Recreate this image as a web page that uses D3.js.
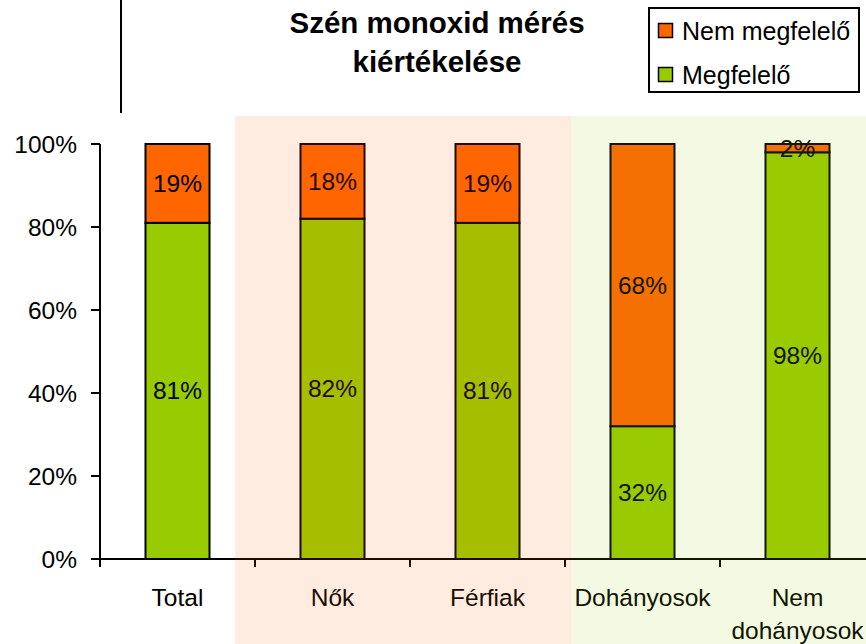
<!DOCTYPE html>
<html>
<head>
<meta charset="utf-8">
<script src="https://cdn.jsdelivr.net/npm/d3@7"></script>
<style>
  html, body { margin: 0; padding: 0; background: #fff; }
  svg { display: block; font-family: "Liberation Sans", Arial, sans-serif; }
</style>
</head>
<body>
<svg id="chart" width="866" height="644"></svg>
<script>
// ---- data ----
const categories = ["Total", "Nők", "Férfiak", "Dohányosok", "Nem dohányosok"];
const megfelelo = [0.81, 0.82, 0.81, 0.32, 0.98];
const nemMegfelelo = [0.19, 0.18, 0.19, 0.68, 0.02];
const seriesNames = ["Nem megfelelő", "Megfelelő"];
const yTicks = [0, 0.2, 0.4, 0.6, 0.8, 1.0];
const titleLines = ["Szén monoxid mérés", "kiértékelése"];

const colors = { "Megfelelő": "#99CC00", "Nem megfelelő": "#FF6600" };

const svg = d3.select("#chart");
const W = 866, H = 644;
const FS = 24.5;

const x0 = 100, step = 155;
const x = d3.scaleBand().domain(categories)
  .range([x0, x0 + step * categories.length])
  .paddingInner(0.587).paddingOuter(0.2935);
const y = d3.scaleLinear().domain([0, 1]).range([559, 144]);

// ---- title ----
svg.append("text")
  .attr("x", 437).attr("y", 33)
  .attr("text-anchor", "middle")
  .attr("font-size", 29.5).attr("font-weight", "bold")
  .selectAll("tspan").data(titleLines).join("tspan")
  .attr("x", 437).attr("dy", (d, i) => i === 0 ? 0 : 39)
  .text(d => d);

// vertical separator line at top
svg.append("line")
  .attr("x1", 121).attr("x2", 121).attr("y1", 0).attr("y2", 113)
  .attr("stroke", "#000").attr("stroke-width", 2);

// ---- legend ----
const lg = svg.append("g");
lg.append("rect").attr("x", 649).attr("y", 8).attr("width", 210).attr("height", 84)
  .attr("fill", "#fff").attr("stroke", "#000").attr("stroke-width", 2);
seriesNames.forEach((name, i) => {
  const yy = 23 + i * 44;
  lg.append("rect").attr("x", 658.5).attr("y", yy + 0.5).attr("width", 14).attr("height", 14)
    .attr("fill", colors[name]).attr("stroke", "#000").attr("stroke-width", 1.5);
  lg.append("text").attr("x", 682).attr("y", yy + 16.5)
    .attr("font-size", 25).attr("fill", "#000").text(name);
});

// ---- bars ----
const stackData = categories.map((c, i) => ({ cat: c, m: megfelelo[i], n: nemMegfelelo[i] }));
const barG = svg.append("g");
stackData.forEach(d => {
  const bx = x(d.cat), bw = x.bandwidth();
  barG.append("rect")
    .attr("x", bx).attr("y", y(d.m)).attr("width", bw).attr("height", y(0) - y(d.m))
    .attr("fill", colors["Megfelelő"]).attr("stroke", "#000").attr("stroke-width", 2);
  barG.append("rect")
    .attr("x", bx).attr("y", y(d.m + d.n)).attr("width", bw).attr("height", y(d.m) - y(d.m + d.n))
    .attr("fill", colors["Nem megfelelő"]).attr("stroke", "#000").attr("stroke-width", 2);
  barG.append("text")
    .attr("x", bx + bw / 2).attr("y", (y(0) + y(d.m)) / 2)
    .attr("text-anchor", "middle").attr("dominant-baseline", "central")
    .attr("font-size", FS).attr("fill", "#000")
    .text(Math.round(d.m * 100) + "%");
  barG.append("text")
    .attr("x", bx + bw / 2).attr("y", (y(d.m) + y(d.m + d.n)) / 2)
    .attr("text-anchor", "middle").attr("dominant-baseline", "central")
    .attr("font-size", FS).attr("fill", "#000")
    .text(Math.round(d.n * 100) + "%");
});

// ---- axes ----
const yAxis = svg.append("g");
yAxis.append("line").attr("x1", x0).attr("x2", x0).attr("y1", y(1)).attr("y2", y(0) + 8)
  .attr("stroke", "#000").attr("stroke-width", 2);
yTicks.forEach(t => {
  yAxis.append("line").attr("x1", x0 - 9).attr("x2", x0).attr("y1", y(t)).attr("y2", y(t))
    .attr("stroke", "#000").attr("stroke-width", 2);
  yAxis.append("text").attr("x", 77).attr("y", y(t))
    .attr("text-anchor", "end").attr("dominant-baseline", "central")
    .attr("font-size", FS).attr("fill", "#000")
    .text(d3.format(".0%")(t));
});

const xAxis = svg.append("g");
xAxis.append("line").attr("x1", x0).attr("x2", W).attr("y1", y(0)).attr("y2", y(0))
  .attr("stroke", "#000").attr("stroke-width", 2);
categories.forEach((c, i) => {
  const tx = x0 + i * step;
  xAxis.append("line").attr("x1", tx).attr("x2", tx).attr("y1", y(0)).attr("y2", y(0) + 8)
    .attr("stroke", "#000").attr("stroke-width", 2);
  const words = c === "Nem dohányosok" ? ["Nem", "dohányosok"] : [c];
  const t = xAxis.append("text").attr("x", x(c) + x.bandwidth() / 2).attr("y", 606)
    .attr("text-anchor", "middle").attr("font-size", FS).attr("fill", "#000");
  words.forEach((w, j) => {
    t.append("tspan").attr("x", x(c) + x.bandwidth() / 2).attr("dy", j === 0 ? 0 : 33).text(w);
  });
});

// ---- translucent highlight bands (drawn over everything) ----
const bands = [
  { from: 0.87, to: 3.04, color: colors["Nem megfelelő"], alpha: 0.12 },
  { from: 3.04, to: 5.2, color: colors["Megfelelő"], alpha: 0.11 }
];
svg.append("g").selectAll("rect").data(bands).join("rect")
  .attr("x", d => x0 + d.from * step)
  .attr("y", 116)
  .attr("width", d => Math.min(W, x0 + d.to * step) - (x0 + d.from * step))
  .attr("height", H - 116)
  .attr("fill", d => d.color)
  .attr("fill-opacity", d => d.alpha);
</script>
</body>
</html>
